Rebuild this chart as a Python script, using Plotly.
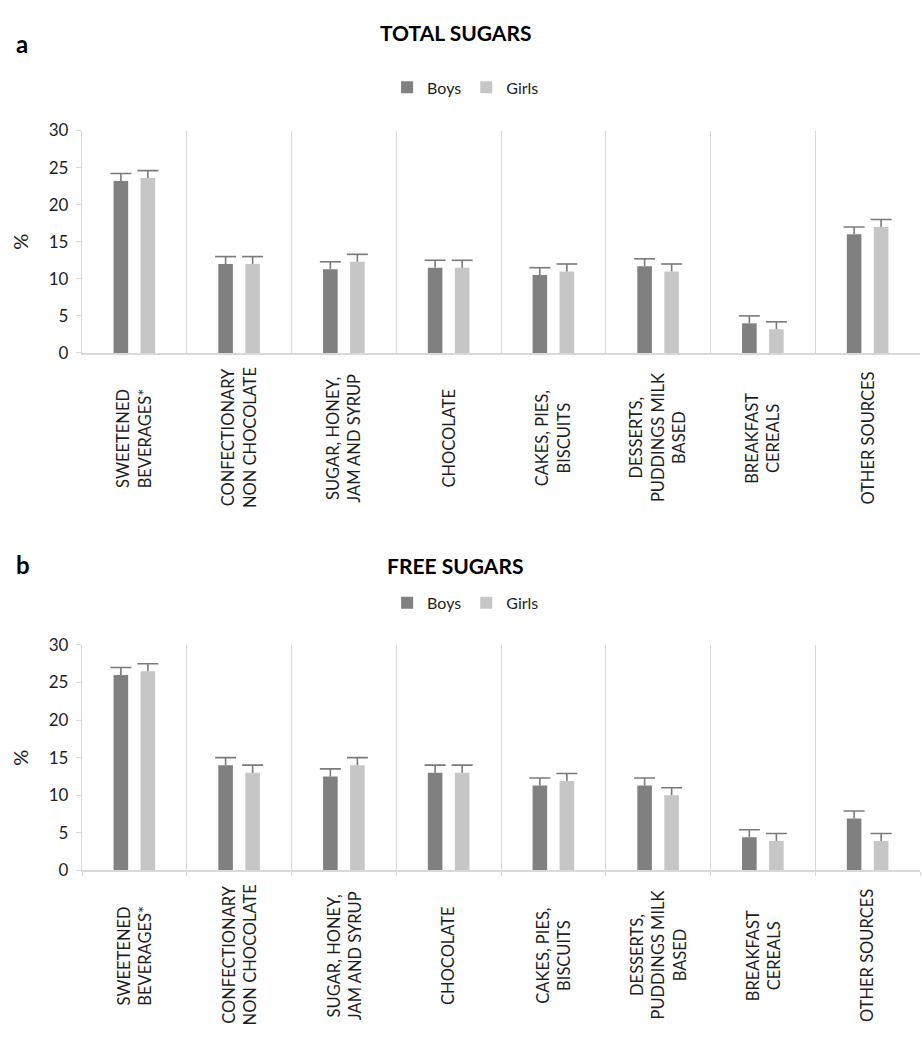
import plotly.graph_objects as go

# Food-group categories (x axis) and their drawn, multi-line labels
categories = ["SWEETENED", "CONFECTIONARY", "SUGAR", "CHOCOLATE",
              "CAKES", "DESSERTS", "BREAKFAST", "OTHER"]
category_labels = [
    "SWEETENED<br>BEVERAGES*",
    "CONFECTIONARY<br>NON CHOCOLATE",
    "SUGAR, HONEY,<br>JAM AND SYRUP",
    "CHOCOLATE",
    "CAKES, PIES,<br>BISCUITS",
    "DESSERTS,<br>PUDDINGS MILK<br>BASED",
    "BREAKFAST<br>CEREALS",
    "OTHER SOURCES",
]

# Panel a: contribution to total sugars (%)
total_boys = [23.2, 12.0, 11.3, 11.5, 10.5, 11.7, 4.0, 16.0]
total_girls = [23.6, 12.0, 12.3, 11.5, 11.0, 11.0, 3.2, 17.0]
total_boys_err = [1.0, 1.0, 1.0, 1.0, 1.0, 1.0, 1.0, 1.0]
total_girls_err = [1.0, 1.0, 1.0, 1.0, 1.0, 1.0, 1.0, 1.0]

# Panel b: contribution to free sugars (%)
free_boys = [26.0, 14.0, 12.5, 13.0, 11.3, 11.3, 4.4, 6.9]
free_girls = [26.5, 13.0, 14.0, 13.0, 11.9, 10.0, 3.9, 3.9]
free_boys_err = [1.0, 1.0, 1.0, 1.0, 1.0, 1.0, 1.0, 1.0]
free_girls_err = [1.0, 1.0, 1.0, 1.0, 1.0, 1.0, 1.0, 1.0]

y_ticks = [0, 5, 10, 15, 20, 25, 30]

W, H = 922, 1043
BOYS_COLOR = "#808080"
GIRLS_COLOR = "#c6c6c6"
ERR_COLOR = "#7a7a7a"
GRID = "#d9d9d9"
TEXT = "#1e1e1e"
FONT = "Lato, 'Open Sans', sans-serif"

fig = go.Figure()

panels = [
    dict(xa="x", ya="y", legend="legend",
         series=[("Boys", total_boys, total_boys_err, BOYS_COLOR, "b"),
                 ("Girls", total_girls, total_girls_err, GIRLS_COLOR, "g")]),
    dict(xa="x2", ya="y2", legend="legend2",
         series=[("Boys", free_boys, free_boys_err, BOYS_COLOR, "b"),
                 ("Girls", free_girls, free_girls_err, GIRLS_COLOR, "g")]),
]

for p in panels:
    for name, vals, errs, color, grp in p["series"]:
        # bar with an upward-only stem
        fig.add_trace(go.Bar(
            x=categories, y=vals, name=name, xaxis=p["xa"], yaxis=p["ya"],
            legend=p["legend"], offsetgroup=grp,
            marker=dict(color=color, line=dict(width=0)),
            error_y=dict(type="data", symmetric=False, array=errs,
                         arrayminus=[0] * len(errs), color=ERR_COLOR,
                         thickness=1.6, width=0),
            hoverinfo="skip",
        ))
        # cap on top of each stem
        fig.add_trace(go.Scatter(
            x=categories, y=[v + e for v, e in zip(vals, errs)],
            mode="markers", xaxis=p["xa"], yaxis=p["ya"],
            offsetgroup=grp, showlegend=False, hoverinfo="skip",
            marker=dict(symbol="line-ew", size=15,
                        line=dict(color=ERR_COLOR, width=1.6)),
        ))

x_dom = [82 / W, 920 / W]
top_dom = [1 - 349 / H, 1 - 122 / H]
bot_dom = [1 - 877 / H, 1 - 647 / H]

common_x = dict(type="category", range=[-0.5, 7.5], showticklabels=False,
                showgrid=True, gridcolor=GRID, gridwidth=1.3,
                tickson="boundaries", showline=True, linecolor=GRID,
                linewidth=1.8, zeroline=False, fixedrange=True)
common_y = dict(range=[0, 30], tickvals=y_ticks, showgrid=False,
                showline=True, linecolor=GRID, linewidth=1.3,
                ticks="outside", ticklen=5, tickcolor=GRID,
                ticklabelstandoff=4,
                tickfont=dict(family=FONT, size=17, color=TEXT),
                zeroline=False, title=dict(text="%", standoff=14,
                font=dict(family=FONT, size=20, color=TEXT)))

legend_style = dict(orientation="h", x=0.505, xanchor="center",
                    yanchor="middle", itemwidth=30,
                    font=dict(family=FONT, size=16, color=TEXT),
                    bgcolor="rgba(0,0,0,0)")

fig.update_layout(
    width=W, height=H, margin=dict(l=0, r=0, t=0, b=0),
    paper_bgcolor="white", plot_bgcolor="white",
    barmode="group", bargap=0.484, bargroupgap=0.46,
    scattermode="group", scattergap=0.484,
    xaxis=dict(domain=x_dom, anchor="y", ticks="", **common_x),
    yaxis=dict(domain=top_dom, anchor="x", **common_y),
    xaxis2=dict(domain=x_dom, anchor="y2", ticks="outside", ticklen=4,
                tickcolor=GRID, **common_x),
    yaxis2=dict(domain=bot_dom, anchor="x2", **common_y),
    legend=dict(y=1 - 78 / H, **legend_style),
    legend2=dict(y=1 - 604 / H, **legend_style),
    showlegend=True,
)

annotations = []
# panel letters and titles
for letter, title, y_letter, y_title in [("a", "TOTAL SUGARS", 33, 22),
                                         ("b", "FREE SUGARS", 565, 566)]:
    annotations.append(dict(text=f"<b>{letter}</b>", x=14 / W, y=1 - y_letter / H,
                            xref="paper", yref="paper", xanchor="left",
                            yanchor="middle", showarrow=False,
                            font=dict(family=FONT, size=24, color="black")))
    annotations.append(dict(text=f"<b>{title}</b>", x=455 / W, y=1 - y_title / H,
                            xref="paper", yref="paper", xanchor="center",
                            yanchor="middle", showarrow=False,
                            font=dict(family=FONT, size=21, color="black")))

# rotated category labels under each panel
for xa, ya in [("x", "y"), ("x2", "y2")]:
    for cat, lab in zip(categories, category_labels):
        annotations.append(dict(
            text=lab, x=cat, xref=xa, y=0, yref=f"{ya} domain",
            xanchor="center", yanchor="middle", yshift=-85, textangle=-90,
            align="center", showarrow=False,
            font=dict(family=FONT, size=16.5, color=TEXT)))

fig.update_layout(annotations=annotations)

fig.write_html("out.html")
